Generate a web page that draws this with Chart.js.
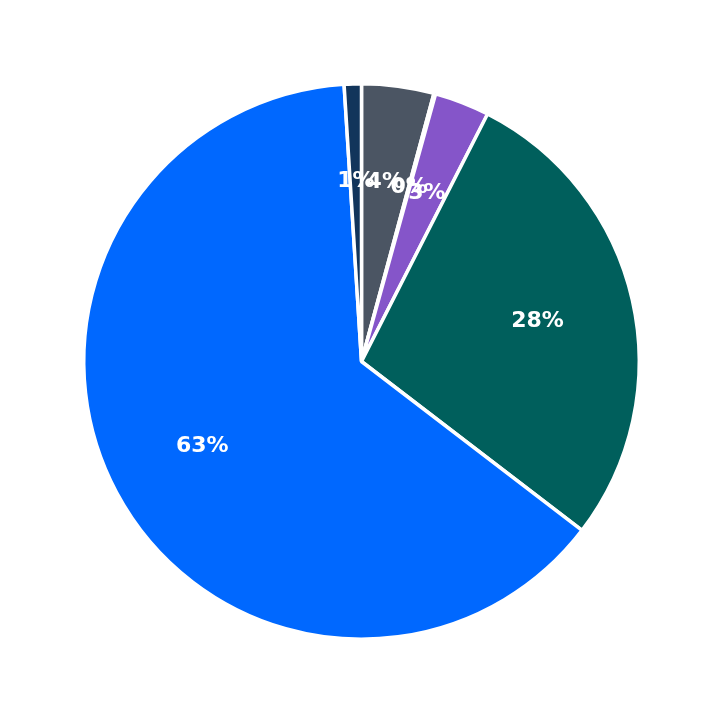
<!DOCTYPE html>
<html>
<head>
<meta charset="utf-8">
<script src="https://cdn.jsdelivr.net/npm/chart.js@4.4.1/dist/chart.umd.min.js"></script>
<style>
html,body{margin:0;padding:0;background:#fff;}
#wrap{width:723px;height:723px;}
</style>
</head>
<body>
<div id="wrap"><canvas id="pie"></canvas></div>
<script>
// slices, clockwise from 12 o'clock
const labels = ['A', 'B', 'C', 'D', 'E', 'F'];
const values = [4.2, 0.1, 3.2, 27.9, 63.6, 1.0];
const pctLabels = ['4%', '0%', '3%', '28%', '63%', '1%'];
const colors = ['#4b5563', '#ffffff', '#8555c9', '#005f5c', '#0068ff', '#12355b'];

// percentage text inside each wedge
const pctPlugin = {
  id: 'pct',
  afterDatasetsDraw(chart){
    const ctx = chart.ctx;
    const meta = chart.getDatasetMeta(0);
    ctx.save();
    ctx.fillStyle = '#fff';
    ctx.font = 'bold 22px "DejaVu Sans"';
    ctx.textAlign = 'center';
    ctx.textBaseline = 'middle';
    meta.data.forEach((arc, i) => {
      const mid = (arc.startAngle + arc.endAngle) / 2;
      const r = arc.outerRadius * 0.65;
      ctx.fillText(pctLabels[i], arc.x + Math.cos(mid) * r, arc.y + Math.sin(mid) * r);
    });
    ctx.restore();
  }
};

new Chart(document.getElementById('pie'), {
  type: 'pie',
  data: {
    labels: labels,
    datasets: [{ data: values, backgroundColor: colors, borderColor: '#fff', borderWidth: 3.5 }]
  },
  options: {
    responsive: true,
    maintainAspectRatio: false,
    animation: false,
    layout: { padding: 82 },
    plugins: { legend: { display: false }, tooltip: { enabled: false } }
  },
  plugins: [pctPlugin]
});
</script>
</body>
</html>
